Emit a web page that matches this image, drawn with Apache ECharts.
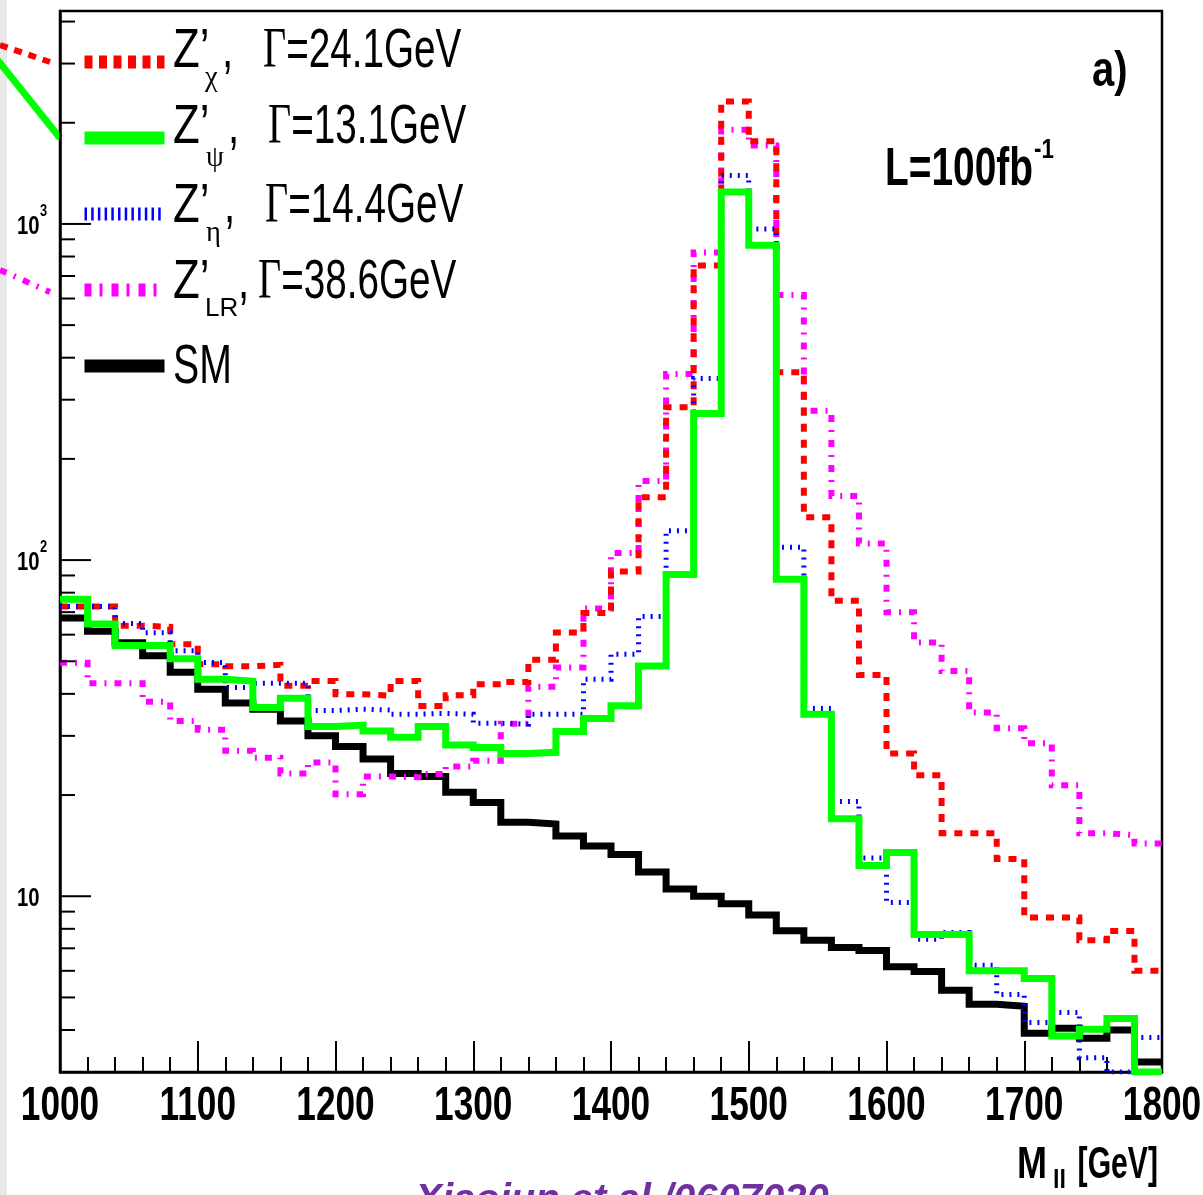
<!DOCTYPE html>
<html><head><meta charset="utf-8">
<script src="https://cdn.jsdelivr.net/npm/echarts@6/dist/echarts.min.js"></script>
<style>html,body{margin:0;padding:0;background:#fff}#c{width:1203px;height:1195px}</style>
</head><body><div id="c"></div>
<script>
// ---- data (bin edges in GeV, events per 20 GeV bin) ----
const binEdges = [1000,1020,1040,1060,1080,1100,1120,1140,1160,1180,1200,1220,1240,1260,1280,1300,1320,1340,1360,1380,1400,1420,1440,1460,1480,1500,1520,1540,1560,1580,1600,1620,1640,1660,1680,1700,1720,1740,1760,1780,1800];
const smValues  = [67.2,61.4,56.8,51.9,46.4,41.3,37.6,36.0,33.2,30.0,27.9,25.6,23.2,22.7,20.4,19.0,16.6,16.4,15.1,14.1,13.3,11.8,10.5,10.0,9.5,8.8,7.9,7.4,7.04,6.9,6.17,5.97,5.25,4.77,4.71,3.91,4.05,3.78,4.0,3.21];
const psiValues = [76.5,64.5,55.7,55.7,50.9,44.2,43.6,36.4,38.8,32.0,32.3,31.0,29.7,32.0,28.2,27.7,26.6,26.8,30.9,33.8,36.9,48.4,90.6,273,1245,864,87.7,34.8,17.0,12.35,13.5,7.7,7.7,6.0,6.0,5.69,3.84,4.02,4.33,3.0];
const chiValues = [72.8,72.8,63.8,63.3,56.2,49.0,48.3,48.8,42.3,43.7,39.9,39.5,43.7,36.8,39.6,42.7,43.4,50.5,60.9,69.6,92.5,153.7,285,752,2312,1762,362,134,75.7,45.5,26.6,22.9,15.4,15.4,12.9,8.64,8.64,7.4,7.88,6.0];
const etaValues = [72.8,72.8,64.8,60.8,53.7,49.6,41.8,43.0,43.0,35.7,36.0,35.8,34.8,35.0,34.8,32.7,32.5,34.8,34.8,44.2,52.5,68.0,122.3,347,1393,966,109.1,36.2,19.15,13.0,9.58,7.45,7.8,6.23,5.1,4.21,4.51,3.31,3.0,3.80];
const lrValues  = [49.5,43.0,43.0,37.9,33.2,31.3,27.1,25.8,23.2,25.0,20.1,22.7,22.6,23.1,24.3,25.3,32.6,42.0,47.9,71.8,105,172,358,823,1905,1710,615,278,155,112,69.9,56.9,46.8,35.2,31.6,28.5,21.4,15.4,15.2,14.35];
const xTickValues = [1000,1100,1200,1300,1400,1500,1600,1700,1800];
const yMajorTicks = [10,100,1000];
const yMinorTicks = [4,5,6,7,8,9,20,30,40,50,60,70,80,90,200,300,400,500,600,700,800,900,2000,3000,4000];
const seriesNames = ["Z'χ","Z'ψ","Z'η","Z'LR","SM"];
const legendSubs  = ["χ","ψ","η","LR"];
const legendWidths = ["Γ=24.1GeV","Γ=13.1GeV","Γ=14.4GeV","Γ=38.6GeV"];

const FA = "'Liberation Sans','Arial',sans-serif";
const FS = "'Liberation Serif','Times New Roman',serif";
const SX = 0.72;   // horizontal condensing of the ROOT Helvetica text

function hist(vals){
  const d = vals.map((v,i)=>[binEdges[i], v]);
  d.push([binEdges[vals.length], vals[vals.length-1]]);
  return d;
}
function lineSeries(name, vals, color, width, dash, z){
  return {name, type:'line', step:'end', data:hist(vals), symbol:'none', showSymbol:false,
    animation:false, clip:true, z:z, lineStyle:{color, width, type:dash||'solid', cap:'butt', join:'miter'},
    itemStyle:{color}};
}
function T(x, y, text, o){
  o = o || {};
  return {type:'text', silent:true, x, y, scaleX:o.sx||1, z:100,
    style:{text, fontFamily:o.ff||FA, fontSize:o.fs||56, fontWeight:o.fw||'normal', fontStyle:o.it||'normal',
      fill:o.fill||'#000', align:o.align||'left', verticalAlign:'middle', rich:o.rich}};
}

// legend text layout (row centres / positions in px)
const rowCY   = [52, 128, 207, 283];
const subDY   = [26, 30, 26.5, 26];
const subX    = [205, 206, 206, 205];
const commaX  = [222, 228, 224, 238];
const gammaX  = [263, 268, 265, 258];
const graphics = [
  {type:'rect', silent:true, z:0, shape:{x:0,y:0,width:7,height:1195}, style:{fill:'#e8e8e8'}},
  {type:'line', silent:true, shape:{x1:0,y1:45,x2:50,y2:62}, style:{stroke:'#ff0000', lineWidth:6, lineDash:[8,7]}},
  {type:'line', silent:true, shape:{x1:-4,y1:58,x2:60,y2:138}, style:{stroke:'#00ff00', lineWidth:7}},
  {type:'line', silent:true, shape:{x1:0,y1:270,x2:50,y2:292}, style:{stroke:'#ff00ff', lineWidth:6, lineDash:[7,8,2,8]}}
];
legendSubs.forEach((s,i)=>{
  const cy = rowCY[i];
  graphics.push(T(173, cy, 'Z’', {sx:SX+0.06}));
  if (s === 'LR') graphics.push(T(subX[i], cy+subDY[i], s, {fs:26}));
  else graphics.push(T(subX[i], cy+subDY[i], s, {ff:FS, fs:30, sx:0.95}));
  graphics.push(T(commaX[i], cy, ',', {sx:SX}));
  graphics.push(T(gammaX[i], cy, '{g|Γ}{t|'+legendWidths[i].slice(1)+'}', {sx:0.69,
    rich:{g:{fontFamily:FS, fontSize:58, lineHeight:60, verticalAlign:'middle'},
          t:{fontFamily:FA, fontSize:56, lineHeight:60, verticalAlign:'middle'}}}));
});
graphics.push(T(173, 368, 'SM', {sx:0.7}));
graphics.push(T(1092, 72, 'a)', {fw:'bold', fs:50, sx:0.8}));
graphics.push(T(885, 170, 'L=100fb', {fw:'bold', fs:54, sx:0.72}));
graphics.push(T(1034, 150, '-1', {fw:'bold', fs:28, sx:0.8}));
graphics.push(T(1017, 1166, 'M', {fw:'bold', fs:45, sx:0.8}));
graphics.push(T(1053, 1181, 'll', {fw:'bold', fs:26, sx:0.9}));
graphics.push(T(1158, 1166, '[GeV]', {fw:'bold', fs:45, sx:0.67, align:'right'}));
graphics.push({type:'text', silent:true, x:622, y:1181, style:{text:'Xiaojun et al./0607020', align:'center', verticalAlign:'top',
  fontFamily:FA, fontStyle:'italic', fontWeight:'bold', fontSize:40, fill:'#7030a0'}});

const chart = echarts.init(document.getElementById('c'), null, {renderer:'canvas'});
chart.setOption({
  backgroundColor:'#ffffff',
  animation:false,
  grid:{left:60, right:41, top:11, bottom:123, show:true, borderColor:'#000', borderWidth:2.5, containLabel:false},
  xAxis:{type:'value', min:1000, max:1800, interval:100,
    axisLine:{show:true, onZero:false, lineStyle:{color:'#000', width:2.5}},
    axisTick:{show:true, inside:true, length:31, lineStyle:{color:'#000', width:2}},
    minorTick:{show:true, splitNumber:5, length:15, lineStyle:{color:'#000', width:2}},
    splitLine:{show:false}, axisLabel:{show:false}
  },
  yAxis:{type:'log', logBase:10, min:3, max:4300,
    axisLine:{show:true, lineStyle:{color:'#000', width:2.5}},
    axisTick:{show:false}, minorTick:{show:false}, splitLine:{show:false}, minorSplitLine:{show:false},
    axisLabel:{show:false}
  },
  legend:{orient:'vertical', left:78, top:55, padding:0, itemWidth:80, itemHeight:14, itemGap:62.5, align:'left',
    selectedMode:false, formatter:()=>'', itemStyle:{opacity:0},
    data:[
      {name:"Z'χ", lineStyle:{width:13, type:[8,6.5], color:'#ff0000'}},
      {name:"Z'ψ", lineStyle:{width:13, color:'#00ff00'}},
      {name:"Z'η", lineStyle:{width:13, type:[2.5,4.2], color:'#0000ff'}},
      {name:"Z'LR", lineStyle:{width:13, type:[7,8,3,9], color:'#ff00ff'}},
      {name:"SM", lineStyle:{width:13, color:'#000000'}}
    ]
  },
  graphic: graphics,
  series:[
    lineSeries('SM', smValues, '#000000', 7, 'solid', 2),
    lineSeries("Z'LR", lrValues, '#ff00ff', 6, [7,8,2,8], 3),
    lineSeries("Z'χ", chiValues, '#ff0000', 6, [8,8], 4),
    lineSeries("Z'η", etaValues, '#0000ff', 5, [2,6], 5),
    lineSeries("Z'ψ", psiValues, '#00ff00', 7, 'solid', 6),
    // y-axis ticks (2..9 x 10^n) and 10^n labels, placed through the log scale
    {type:'custom', name:'yticks', silent:true, animation:false, z:10,
      data: yMajorTicks.concat(yMinorTicks).map(v=>[1000, v]),
      encode:{x:0, y:1},
      renderItem:function(params, api){
        const v = api.value(1);
        const p = api.coord([api.value(0), v]);
        const major = yMajorTicks.indexOf(v)>=0;
        const line = {type:'line', shape:{x1:p[0], y1:p[1], x2:p[0]+(major?31:15), y2:p[1]}, style:{stroke:'#000', lineWidth:2}};
        if (!major) return line;
        const ex = Math.round(Math.log10(v));
        const children = [line,
          {type:'text', x:p[0]-43, y:p[1]+2.5, scaleX:0.78, style:{text:'10', fontFamily:FA, fontWeight:'bold', fontSize:26, fill:'#000', align:'left', verticalAlign:'middle'}}];
        if (ex > 1) children.push({type:'text', x:p[0]-20, y:p[1]-12, scaleX:0.8, style:{text:String(ex), fontFamily:FA, fontWeight:'bold', fontSize:16, fill:'#000', align:'left', verticalAlign:'middle'}});
        return {type:'group', children};
      }},
    // x-axis tick labels, placed through the x scale
    {type:'custom', name:'xlabels', silent:true, animation:false, z:10,
      data: xTickValues.map(v=>[v, 3]),
      encode:{x:0, y:1},
      renderItem:function(params, api){
        const p = api.coord([api.value(0), api.value(1)]);
        return {type:'text', x:p[0], y:p[1]+34, scaleX:0.72,
          style:{text:String(api.value(0)), fontFamily:FA, fontWeight:'bold', fontSize:49, fill:'#000', align:'center', verticalAlign:'middle'}};
      }}
  ]
});
</script></body></html>
